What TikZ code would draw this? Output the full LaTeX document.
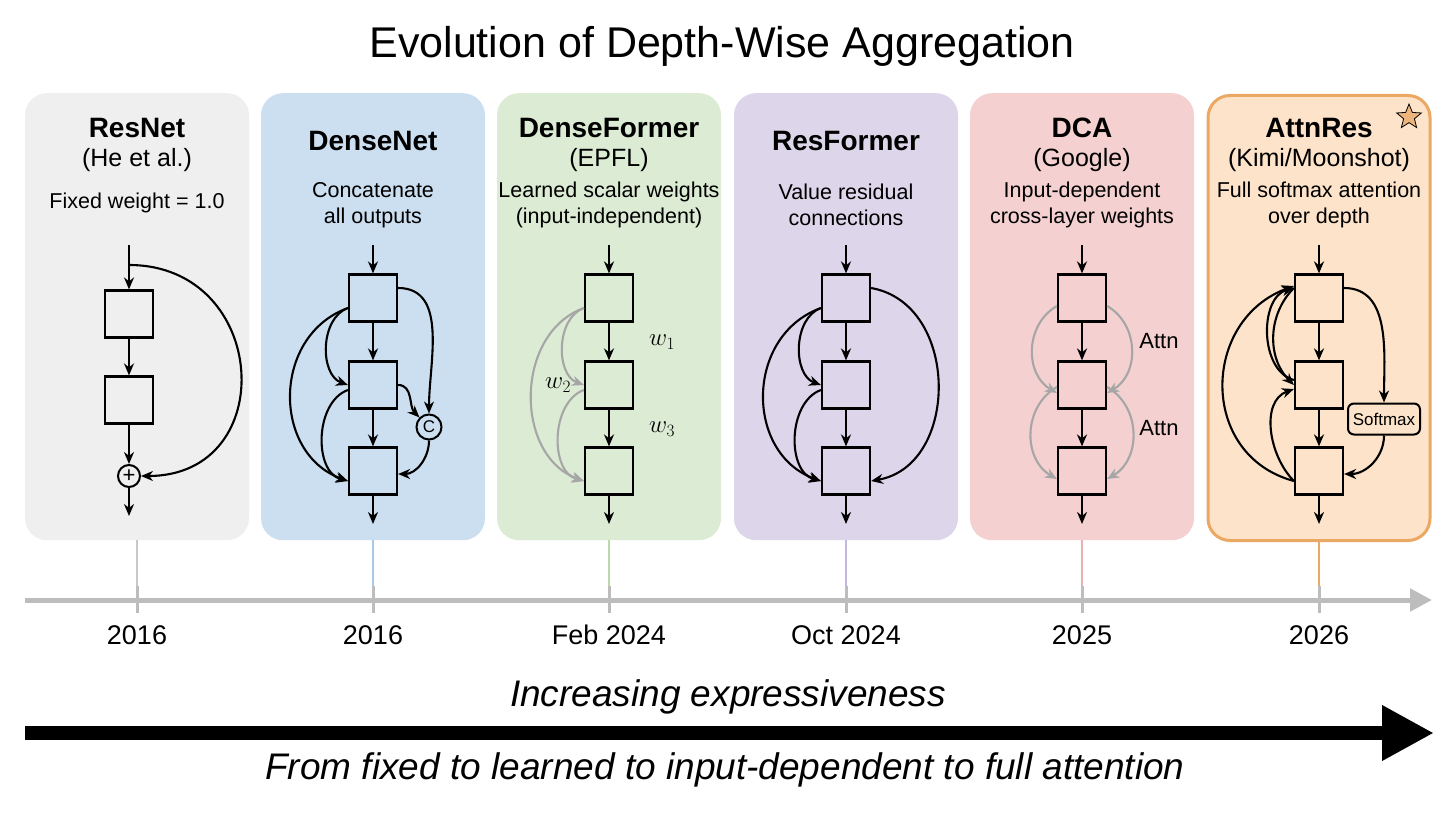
\documentclass[tikz,border=0pt]{standalone}
\usepackage{fontspec}
\setmainfont{Liberation Sans}
\usetikzlibrary{arrows.meta,shapes.geometric}
\definecolor{cRes}{HTML}{EFEFEF}
\definecolor{cDense}{HTML}{CCDFF0}
\definecolor{cDF}{HTML}{DCEBD3}
\definecolor{cRF}{HTML}{DDD5EA}
\definecolor{cDCA}{HTML}{F4D0D0}
\definecolor{cAR}{HTML}{FCE3C9}
\definecolor{cARb}{HTML}{EBA863}
\definecolor{axg}{HTML}{BDBDBD}
\definecolor{t1}{HTML}{C8C8C8}
\definecolor{t2}{HTML}{A9C8E6}
\definecolor{t3}{HTML}{BCDAA8}
\definecolor{t4}{HTML}{C4B6DE}
\definecolor{t5}{HTML}{EBB0B0}
\definecolor{t6}{HTML}{EBA863}
\tikzset{
 panel/.style={rounded corners=22pt,draw=none,minimum width=224pt,minimum height=447pt,anchor=north},
 blk/.style={draw,line width=2.2pt,minimum width=48pt,minimum height=47pt,inner sep=0pt},
 arr/.style={line width=2.1pt,-{Stealth[length=12pt,width=10pt]}},
 garr/.style={arr,draw=black!35},
 nm/.style={font=\fontsize{28}{32}\selectfont\bfseries},
 sub/.style={font=\fontsize{25}{28}\selectfont},
 dsc/.style={font=\fontsize{21.5}{26}\selectfont,align=center},
 yr/.style={font=\fontsize{27}{30}\selectfont},
 lbl/.style={font=\fontsize{22}{22}\selectfont},
 tck/.style={line width=3pt,draw=axg},
}
\newcommand\mkstack[2]{%
 \node[blk] (#1a) at (#2,298) {};
 \node[blk] (#1b) at (#2,385) {};
 \node[blk] (#1c) at (#2,471) {};
 \coordinate (#1in) at (#2,245);
 \coordinate (#1out) at (#2,524);
 \draw[arr] (#1in)--(#1a);
 \draw[arr] (#1a)--(#1b);
 \draw[arr] (#1b)--(#1c);
 \draw[arr] (#1c)--(#1out);}
\begin{document}
\begin{tikzpicture}[x=1pt,y=-1pt]
\useasboundingbox (0,0) rectangle (1456,813);
\fill[white] (0,0) rectangle (1456,813);
\node[font=\fontsize{43}{46}\selectfont] (title) at (722,46) {Evolution of Depth-Wise Aggregation};
% panels
\node[panel,fill=cRes] (p1) at (137,93) {};
\node[panel,fill=cDense] (p2) at (373,93) {};
\node[panel,fill=cDF] (p3) at (609,93) {};
\node[panel,fill=cRF] (p4) at (846,93) {};
\node[panel,fill=cDCA] (p5) at (1082,93) {};
\node[panel,fill=cAR,draw=cARb,line width=3pt,minimum width=222pt,minimum height=445pt] (p6) at (1319,94) {};
% texts
\node[nm] (n1) at (137,128) {ResNet};
\node[sub] (s1) at (137,160) {(He et al.)};
\node[dsc] (d1) at (137,203) {Fixed weight = 1.0};
\node[nm] (n2) at (373,141) {DenseNet};
\node[dsc] (d2) at (373,205) {Concatenate\\all outputs};
\node[nm] (n3) at (609,128) {DenseFormer};
\node[sub] (s3) at (609,160) {(EPFL)};
\node[dsc] (d3) at (609,205) {Learned scalar weights\\(input-independent)};
\node[nm] (n4) at (846,141) {ResFormer};
\node[dsc] (d4) at (846,205) {Value residual\\connections};
\node[nm] (n5) at (1082,128) {DCA};
\node[sub] (s5) at (1082,160) {(Google)};
\node[dsc] (d5) at (1082,205) {Input-dependent\\cross-layer weights};
\node[nm] (n6) at (1319,128) {AttnRes};
\node[sub] (s6) at (1319,160) {(Kimi/Moonshot)};
\node[dsc] (d6) at (1319,205) {Full softmax attention\\over depth};
\node[star,star points=5,star point ratio=2.3,minimum size=26pt,inner sep=0pt,fill=cARb!85,draw=black,line width=0.8pt] (st) at (1409,117) {};
% ResNet
\node[blk] (ra) at (129,314) {};
\node[blk] (rb) at (129,400) {};
\node[circle,draw,line width=2pt,minimum size=22pt,inner sep=0pt,font=\fontsize{22}{22}\selectfont] (plus) at (129,476) {+};
\coordinate (rin) at (129,245);
\coordinate (rsplit) at (129,265);
\coordinate (rout) at (129,516);
\draw[arr] (rin)--(ra);
\draw[arr] (ra)--(rb);
\draw[arr] (rb)--(plus);
\draw[arr] (plus)--(rout);
\draw[arr] (rsplit) to[out=0,in=0,looseness=1.7] (plus);
% DenseNet
\mkstack{b}{373}
\node[circle,draw,line width=2pt,minimum size=25pt,inner sep=0pt,font=\fontsize{17}{17}\selectfont,fill=cDense] (cc) at (429,427) {C};
\draw[arr] ([yshift=-10pt]ba.west) to[out=200,in=160] ([yshift=0pt]bb.west);
\draw[arr] ([yshift=-10pt]ba.west) to[out=200,in=160,looseness=1.2] ([yshift=-10pt]bc.west);
\draw[arr] ([yshift=-5pt]bb.west) to[out=200,in=165] ([yshift=-10pt]bc.west);
\draw[arr] ([yshift=10pt]ba.east) to[out=0,in=90] (cc.north);
\draw[arr] (bb.east) to[out=0,in=135] (cc.north west);
\draw[arr] (cc.south) to[out=-90,in=0] ([yshift=-3pt]bc.east);
% DenseFormer
\mkstack{f}{609}
\draw[garr] ([yshift=-10pt]fa.west) to[out=200,in=160] (fb.west);
\draw[garr] ([yshift=-10pt]fa.west) to[out=200,in=160,looseness=1.1] ([yshift=-10pt]fc.west);
\draw[garr] ([yshift=-5pt]fb.west) to[out=200,in=165] ([yshift=-10pt]fc.west);
\node[font=\fontsize{27}{27}\selectfont] (w1) at (662,342) {$w_1$};
\node[font=\fontsize{27}{27}\selectfont] (w2) at (558,385) {$w_2$};
\node[font=\fontsize{27}{27}\selectfont] (w3) at (662,429) {$w_3$};
% ResFormer
\mkstack{r}{846}
\draw[arr] ([yshift=-10pt]ra.west) to[out=200,in=160] (rb.west);
\draw[arr] ([yshift=-10pt]ra.west) to[out=200,in=160,looseness=1.2] ([yshift=-10pt]rc.west);
\draw[arr] ([yshift=-5pt]rb.west) to[out=200,in=165] ([yshift=-10pt]rc.west);
\draw[arr] ([yshift=10pt]ra.east) to[out=-10,in=10,looseness=1.2] ([yshift=-10pt]rc.east);
% DCA
\mkstack{d}{1082}
\draw[garr] ([yshift=-8pt]da.west) to[out=210,in=150,looseness=1.1] ([yshift=-8pt]db.west);
\draw[garr] ([yshift=-8pt]da.east) to[out=-30,in=30,looseness=1.1] ([yshift=-8pt]db.east);
\draw[garr] ([yshift=-2pt]db.west) to[out=210,in=150,looseness=1.1] ([yshift=-8pt]dc.west);
\draw[garr] ([yshift=-2pt]db.east) to[out=-30,in=30,looseness=1.1] ([yshift=-8pt]dc.east);
\node[lbl] (at1) at (1159,341) {Attn};
\node[lbl] (at2) at (1159,428) {Attn};
% AttnRes
\mkstack{a}{1319}
\node[draw,line width=2pt,rounded corners=6pt,fill=cAR,minimum width=72pt,minimum height=31pt,font=\fontsize{17}{17}\selectfont] (smx) at (1384,419) {Softmax};
\draw[arr] ([yshift=5pt]ab.west) to[out=165,in=195] ([yshift=10pt]aa.west);
\draw[arr] ([yshift=10pt]aa.west) to[out=225,in=135] ([yshift=0pt]ab.west);
\draw[arr] ([yshift=-10pt]ac.west) to[out=165,in=200,looseness=1.3] ([yshift=12pt]aa.west);
\draw[arr] ([yshift=-10pt]ac.west) to[out=135,in=200] ([yshift=-4pt]ab.west);
\draw[arr] ([yshift=10pt]aa.east) to[out=0,in=90] (smx.north);
\draw[arr] (smx.south) to[out=-90,in=0] ([yshift=-3pt]ac.east);
% timeline
\coordinate (ax0) at (25,600);
\coordinate (ax1) at (1432,600);
\draw[line width=5pt,draw=axg,-{Triangle[length=22pt,width=22pt]}] (ax0)--(ax1);
\foreach \x/\c/\p/\y in {137/t1/p1/2016,373/t2/p2/2016,609/t3/p3/Feb 2024,846/t4/p4/Oct 2024,1082/t5/p5/2025,1319/t6/p6/2026}{
 \draw[line width=1.2pt,draw=\c] (\p.south) -- (\x,590);
 \draw[tck] (\x,586)--(\x,613);
 \node[yr] at (\x,635) {\y};
}
\node[font=\fontsize{37}{40}\selectfont\itshape] (inc) at (728,697) {Increasing expressiveness};
\coordinate (ba0) at (25,733);
\coordinate (ba1) at (1434,733);
\draw[line width=14pt,-{Triangle[length=52pt,width=52pt]}] (ba0)--(ba1);
\node[font=\fontsize{37}{40}\selectfont\itshape] (ft) at (725,770) {From fixed to learned to input-dependent to full attention};
\end{tikzpicture}
\end{document}
